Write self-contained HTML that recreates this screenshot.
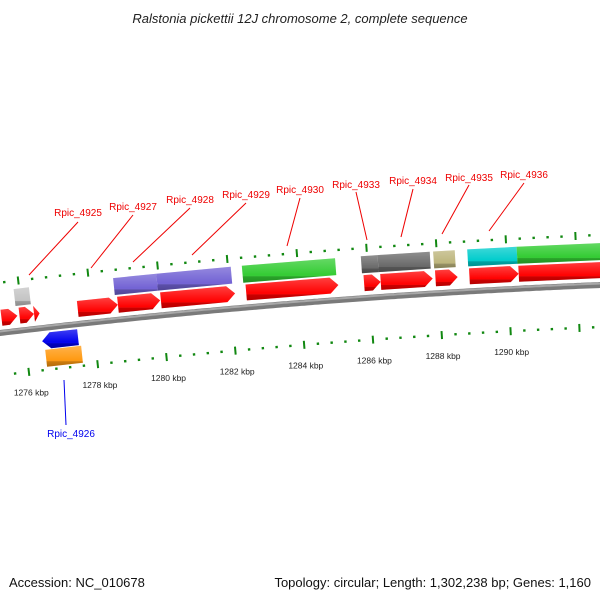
<!DOCTYPE html>
<html><head><meta charset="utf-8"><style>
html,body{margin:0;padding:0;background:#fff;}
svg{display:block;font-family:"Liberation Sans",sans-serif;}
</style></head><body>
<svg id="map" width="600" height="600" viewBox="0 0 600 600" xmlns="http://www.w3.org/2000/svg">
<defs>
<linearGradient id="shade" x1="0" y1="0" x2="0" y2="1">
<stop offset="0" stop-color="#fff" stop-opacity="0.25"/>
<stop offset="0.7" stop-color="#fff" stop-opacity="0"/>
<stop offset="0.75" stop-color="#000" stop-opacity="0.2"/>
<stop offset="1" stop-color="#000" stop-opacity="0.3"/>
</linearGradient>
</defs>
<text x="300" y="23" text-anchor="middle" font-size="13" font-style="italic" fill="#222">Ralstonia pickettii 12J chromosome 2, complete sequence</text>
<g id="ticks"></g>
<g id="backbone"></g>
<g id="features"></g>
<g id="labels"></g>
<text x="9" y="587" font-size="13" fill="#111">Accession: NC_010678</text>
<text x="591" y="587" text-anchor="end" font-size="13" fill="#111">Topology: circular; Length: 1,302,238 bp; Genes: 1,160</text>
</svg>
<script>
// feature data: start kbp, end kbp
const featStart = [1275.40,1275.92,1276.34,1275.84,1277.60,1278.76,1280.00,1278.70,1279.94,1282.40,1282.46,1285.82,1286.30,1285.86,1286.34,1287.90,1287.92,1288.88,1290.30,1288.90,1290.32,1276.48,1276.54];
const featEnd   = [1275.86,1276.34,1276.50,1276.28,1278.76,1279.98,1282.14,1279.94,1282.08,1285.08,1285.12,1286.30,1287.80,1286.34,1287.84,1288.52,1288.56,1290.30,1293.30,1290.32,1293.30,1277.52,1277.58];
const featRow   = ['gene','gene','gene','cds','gene','gene','gene','cds','cds','cds','gene','cds','cds','gene','gene','cds','gene','cds','cds','gene','gene','rgene','rcds'];
const featColor = ['#ff0000','#ff0000','#ff0000','#c4c4c4','#ff0000','#ff0000','#ff0000','#7262d4','#7262d4','#33cc33','#ff0000','#6a6a6a','#6a6a6a','#ff0000','#ff0000','#bdb57c','#ff0000','#00cccc','#33cc33','#ff0000','#ff0000','#0000ee','#ff9910'];
const featArrow = [1,1,1,0,1,1,1,0,0,0,1,0,0,1,1,0,1,0,0,1,1,-1,0];
// tick data
const majorTicks = [1276,1278,1280,1282,1284,1286,1288,1290];
const tickLabels = ['1276 kbp','1278 kbp','1280 kbp','1282 kbp','1284 kbp','1286 kbp','1288 kbp','1290 kbp'];
// gene labels
const geneNames = ['Rpic_4925','Rpic_4927','Rpic_4928','Rpic_4929','Rpic_4930','Rpic_4933','Rpic_4934','Rpic_4935','Rpic_4936','Rpic_4926'];

const NS='http://www.w3.org/2000/svg';
const SCALE=34.6;
function pt(k,h){
  const x0=24+SCALE*(k-1276);
  const y0=333-0.12*x0+6.67e-5*x0*x0;
  const s=-0.12+2*6.67e-5*x0;
  const n=Math.sqrt(1+s*s);
  return [x0+s/n*h, y0-h/n];
}
function mk(tag,attrs,parent){
  const e=document.createElementNS(NS,tag);
  for(const a in attrs)e.setAttribute(a,attrs[a]);
  parent.appendChild(e);return e;
}
const rows={gene:[7,23],cds:[25,42],rgene:[-5,-21],rcds:[-22,-39]};
// ticks
const tg=document.getElementById('ticks');
for(let i=0;i<=46;i++){
  const k=1275.6+i*0.4;
  const major=Math.abs(k/2-Math.round(k/2))<0.01;
  [50,-42].forEach(h=>{
    const hl=major?4:1.2;
    const a=pt(k,h-hl),b=pt(k,h+hl);
    const l=mk('line',{x1:a[0],y1:a[1],x2:b[0],y2:b[1],stroke:'#118811','stroke-width':major?2:2.4},tg);
    
    
  });
}
majorTicks.forEach((k,i)=>{
  const p=pt(k,-63);
  const t=mk('text',{x:p[0],y:p[1]+3,'text-anchor':'middle','font-size':'8.5',fill:'#222'},tg);
  t.textContent=tickLabels[i];
  
  
});
// backbone
const bg=document.getElementById('backbone');
function curve(h){let d='';for(let k=1275;k<=1294;k+=0.1){const p=pt(k,h);d+=(d?'L':'M')+p[0].toFixed(1)+','+p[1].toFixed(1);}return d;}
const bb=mk('path',{d:curve(0),stroke:'#7a7a7a','stroke-width':6,fill:'none'},bg);


const bb2=mk('path',{d:curve(1.5),stroke:'#a8a8a8','stroke-width':2,fill:'none'},bg);


// features
const fg=document.getElementById('features');
featStart.forEach((s,i)=>{
  const e=featEnd[i],[lo,hi]=rows[featRow[i]],mid=(lo+hi)/2;
  const a=Math.min(0.24,(e-s));
  let pts;
  if(featArrow[i]===1) pts=[pt(s,lo),pt(s,hi),pt(e-a,hi),pt(e,mid),pt(e-a,lo)];
  else if(featArrow[i]===-1) pts=[pt(e,lo),pt(e,hi),pt(s+a,hi),pt(s,mid),pt(s+a,lo)];
  else pts=[pt(s,lo),pt(s,hi),pt(e,hi),pt(e,lo)];
  const str=pts.map(p=>p[0].toFixed(1)+','+p[1].toFixed(1)).join(' ');
  const g=mk('g',{},fg);
  
  
  mk('polygon',{points:str,fill:featColor[i]},g);
  mk('polygon',{points:str,fill:'url(#shade)'},g);
});
// labels
const lg=document.getElementById('labels');
const labelPos=[[78,216],[133,210],[190,203],[246,198],[300,193],[356,188],[413,184],[469,181],[524,178],[71,437]];
const lineEnds=[[78,222,29,275],[133,215,91,268],[190,208,133,262],[246,203,192,255],[300,198,287,246],[356,192,367,240],[413,189,401,237],[469,185,442,234],[524,183,489,231],[66,425,64,380]];
geneNames.forEach((n,i)=>{
  const col=i===9?'#0000ee':'#ee0000';
  const L=lineEnds[i];
  const l=mk('line',{x1:L[0],y1:L[1],x2:L[2],y2:L[3],stroke:col,'stroke-width':1},lg);
  
  
  const t=mk('text',{x:labelPos[i][0],y:labelPos[i][1],'text-anchor':'middle','font-size':'10',fill:col},lg);
  t.textContent=n;
  
  
});
</script>
</body></html>
